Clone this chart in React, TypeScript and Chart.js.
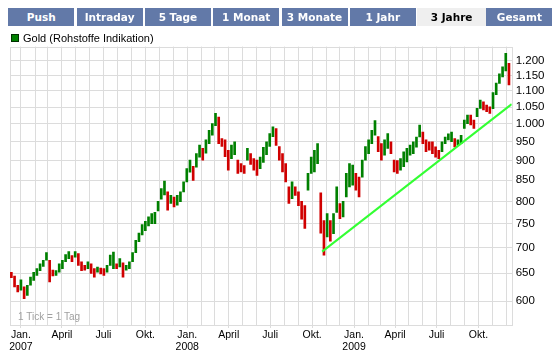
import React, { useEffect, useRef } from 'react';
import { Chart, registerables } from 'chart.js';

Chart.register(...registerables);

const TABS = ['Push', 'Intraday', '5 Tage', '1 Monat', '3 Monate', '1 Jahr', '3 Jahre', 'Gesamt'];
const ACTIVE_TAB = '3 Jahre';
const SERIES_NAME = 'Gold (Rohstoffe Indikation)';
const NOTE = '1 Tick = 1 Tag';

// weekly candles, first week starting on this date
const FIRST_WEEK = '2006-12-11';
const WEEK_LOW = [
  642, 625, 616, 619, 604, 610, 628, 637, 646, 655, 663, 675, 634, 645, 646, 652, 659, 672, 678, 672,
  681, 665, 655, 656, 659, 650, 643, 652, 649, 646, 652, 665, 659, 659, 662, 643, 656, 659, 672, 690,
  712, 726, 735, 745, 750, 750, 778, 805, 815, 780, 795, 787, 791, 799, 822, 846, 870, 850, 883, 909,
  901, 919, 945, 968, 995, 945, 937, 910, 875, 905, 915, 867, 871, 867, 901, 890, 875, 862, 879, 895,
  915, 937, 964, 940, 901, 871, 846, 795, 806, 814, 790, 760, 740, 826, 867, 871, 892, 730, 685, 722,
  713, 729, 775, 761, 765, 810, 834, 838, 826, 810, 858, 901, 918, 945, 968, 923, 901, 914, 932, 918,
  871, 867, 875, 884, 896, 914, 918, 935, 963, 945, 923, 927, 918, 909, 905, 923, 945, 955, 950, 936,
  941, 945, 987, 1001, 997, 987, 1021, 1046, 1041, 1036, 1031, 1045, 1088, 1124, 1145, 1165, 1119,
];
const WEEK_HIGH = [
  652, 645, 628, 638, 625, 628, 643, 652, 659, 668, 675, 690, 675, 656, 655, 668, 675, 686, 692, 684,
  692, 688, 672, 665, 672, 668, 659, 662, 660, 659, 665, 685, 691, 668, 678, 670, 665, 672, 690, 715,
  730, 748, 755, 765, 772, 775, 800, 830, 848, 822, 814, 810, 814, 822, 846, 879, 901, 885, 918, 941,
  932, 955, 982, 1001, 1031, 1020, 959, 955, 927, 941, 950, 901, 892, 887, 932, 918, 905, 901, 909, 935,
  950, 973, 992, 987, 937, 918, 892, 834, 846, 834, 822, 800, 790, 867, 909, 927, 945, 820, 757, 772,
  757, 772, 834, 795, 800, 867, 892, 888, 867, 858, 901, 937, 955, 982, 1010, 964, 945, 955, 973, 950,
  901, 900, 905, 923, 932, 941, 950, 963, 997, 977, 955, 950, 950, 936, 927, 950, 963, 972, 977, 959,
  955, 968, 1011, 1026, 1026, 1011, 1046, 1071, 1066, 1056, 1051, 1095, 1125, 1156, 1179, 1226, 1191,
];

const TREND_DATES = ['2008-10-23', '2009-12-13'];
const TREND_VALUES = [692, 1059];

const X_START = '2006-12-08';
const X_END = '2009-12-13';
const Y_MIN = 560;
const Y_MAX = 1250;
const Y_TICKS = [600, 650, 700, 750, 800, 850, 900, 950, 1000, 1050, 1100, 1150, 1200];
const MONTH_NAMES = ['Jan.', 'Feb.', 'März', 'April', 'Mai', 'Juni', 'Juli', 'Aug.', 'Sep.', 'Okt.', 'Nov.', 'Dez.'];
const QUARTER_MONTHS = [0, 3, 6, 9];

const GREEN = '#008000';
const RED = '#d00000';
const GRID = '#dcdcdc';
const TAB_BG = '#6279a8';
const FONT = '"Liberation Sans", Arial, sans-serif';

const EPOCH = Date.UTC(2007, 0, 1);
const DAY = 86400000;
const dayOf = (s: string) => {
  const [y, m, d] = s.split('-').map(Number);
  return (Date.UTC(y, m - 1, d) - EPOCH) / DAY;
};
const fmtY = (v: number) =>
  v >= 1000 ? `${Math.floor(v / 1000)}.${String(v % 1000).padStart(3, '0')}` : String(v);

export default function App() {
  const ref = useRef<HTMLCanvasElement | null>(null);

  useEffect(() => {
    if (!ref.current) return;
    const xMin = dayOf(X_START);
    const xMax = dayOf(X_END);
    const first = dayOf(FIRST_WEEK);

    const bars = WEEK_LOW.map((lo, i) => ({ x: first + 7 * i, y: [lo, WEEK_HIGH[i]] }));
    const colors = WEEK_LOW.map((lo, i) => {
      const mid = (lo + WEEK_HIGH[i]) / 2;
      const prev = i > 0 ? (WEEK_LOW[i - 1] + WEEK_HIGH[i - 1]) / 2 : mid + 1;
      return mid >= prev ? GREEN : RED;
    });

    const monthTicks: number[] = [];
    for (let y = 2006; y <= 2009; y++) {
      for (let m = 0; m < 12; m++) {
        const d = (Date.UTC(y, m, 1) - EPOCH) / DAY;
        if (d >= xMin && d <= xMax) monthTicks.push(d);
      }
    }
    const monthOf = (v: number) => new Date(EPOCH + v * DAY).getUTCMonth();
    const labelFor = (v: number) => {
      const dt = new Date(EPOCH + v * DAY);
      const m = dt.getUTCMonth();
      if (!QUARTER_MONTHS.includes(m)) return '';
      return m === 0 ? [MONTH_NAMES[m], String(dt.getUTCFullYear())] : MONTH_NAMES[m];
    };

    const framePlugin = {
      id: 'frame',
      beforeDatasetsDraw(chart: any) {
        const { ctx, chartArea: a } = chart;
        ctx.save();
        ctx.strokeStyle = GRID;
        ctx.lineWidth = 1;
        ctx.strokeRect(Math.round(a.left) + 0.5, Math.round(a.top) + 0.5, Math.round(a.right - a.left), Math.round(a.bottom - a.top));
        ctx.fillStyle = '#a0a0a0';
        ctx.font = `10px ${FONT}`;
        ctx.textBaseline = 'middle';
        ctx.fillText(NOTE, a.left + 8, a.bottom - 8);
        ctx.restore();
      },
    };

    const chart = new Chart(ref.current, {
      type: 'bar',
      data: {
        datasets: [
          {
            type: 'line',
            label: 'Trend',
            data: TREND_DATES.map((d, i) => ({ x: dayOf(d), y: TREND_VALUES[i] })),
            borderColor: '#33ff33',
            borderWidth: 2,
            pointRadius: 0,
            order: 0,
          } as any,
          {
            type: 'bar',
            label: SERIES_NAME,
            data: bars as any,
            backgroundColor: colors,
            borderWidth: 0,
            barThickness: 2,
            order: 1,
          } as any,
        ],
      },
      options: {
        animation: false,
        responsive: false,
        maintainAspectRatio: false,
        layout: { padding: { top: 46.6, left: 10, right: 0, bottom: 0 } },
        plugins: { legend: { display: false }, tooltip: { enabled: false } },
        scales: {
          x: {
            type: 'linear',
            min: xMin,
            max: xMax,
            offset: false,
            afterBuildTicks: (s: any) => {
              s.ticks = monthTicks.map((v) => ({ value: v }));
            },
            afterFit: (s: any) => {
              s.height = 30;
            },
            grid: {
              color: GRID,
              offset: false,
              drawTicks: true,
              tickLength: 3,
              tickColor: (c: any) =>
                c.tick && QUARTER_MONTHS.includes(monthOf(c.tick.value)) ? GRID : 'rgba(0,0,0,0)',
            },
            border: { display: false },
            ticks: {
              autoSkip: false,
              maxRotation: 0,
              padding: 1,
              color: '#000',
              font: { family: FONT, size: 10.5, lineHeight: 1.15 },
              callback: (v: any) => labelFor(Number(v)) as any,
            },
          },
          y: {
            type: 'logarithmic',
            position: 'right',
            min: Y_MIN,
            max: Y_MAX,
            afterBuildTicks: (s: any) => {
              s.ticks = Y_TICKS.map((v) => ({ value: v }));
            },
            afterFit: (s: any) => {
              s.width = 553 - 511.7;
            },
            grid: { color: GRID, drawTicks: false },
            border: { display: false },
            ticks: {
              padding: 4,
              color: '#000',
              font: { family: FONT, size: 11.5 },
              callback: (v: any) => fmtY(Number(v)),
            },
          },
        },
      } as any,
      plugins: [framePlugin],
    });
    return () => chart.destroy();
  }, []);

  return (
    <div style={{ position: 'absolute', left: 0, top: 0, width: 553, height: 355, background: '#fff', overflow: 'hidden' }}>
      <canvas ref={ref} width={553} height={355} style={{ position: 'absolute', left: 0, top: 0, width: 553, height: 355 }} />
      {TABS.map((t, k) => {
        const active = t === ACTIVE_TAB;
        return (
          <div
            key={t}
            style={{
              position: 'absolute',
              left: 8.3 + k * 68.3 - (active ? 1 : 0),
              top: 8,
              width: active ? 69 : 66,
              height: 18,
              background: active ? '#efefef' : TAB_BG,
              color: active ? '#000' : '#fff',
              font: 'bold 10.5px "DejaVu Sans", Verdana, sans-serif',
              lineHeight: '18px',
              textAlign: 'center',
              whiteSpace: 'nowrap',
            }}
          >
            {t}
          </div>
        );
      })}
      <div
        style={{
          position: 'absolute',
          left: 11,
          top: 34,
          width: 6,
          height: 6,
          background: GREEN,
          border: '1px solid #003000',
        }}
      />
      <div
        style={{
          position: 'absolute',
          left: 23,
          top: 31,
          font: `11px ${FONT}`,
          lineHeight: '14px',
          color: '#000',
          whiteSpace: 'nowrap',
        }}
      >
        {SERIES_NAME}
      </div>
    </div>
  );
}
